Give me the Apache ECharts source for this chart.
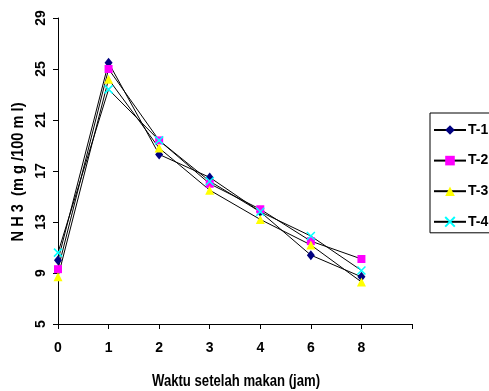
<!DOCTYPE html>
<html><head><meta charset="utf-8">
<script src="https://cdn.jsdelivr.net/npm/echarts@6/dist/echarts.min.js"></script>
<style>html,body{margin:0;padding:0;background:#fff}#c{width:489px;height:391px}</style>
</head><body><div id="c"></div>
<script>
var categories = ['0','1','2','3','4','6','8',''];
var yTicks = [5,9,13,17,21,25,29];
var t1 = [10.0, 25.5, 18.3, 16.5, 13.8, 10.4, 8.7];
var t2 = [9.3, 25.0, 19.4, 16.0, 14.0, 11.5, 10.1];
var t3 = [8.7, 24.2, 18.8, 15.5, 13.2, 11.2, 8.3];
var t4 = [10.6, 23.4, 19.4, 16.2, 13.8, 11.9, 9.2];
var names = ['T-1','T-2','T-3','T-4'];
var xTitle = 'Waktu setelah makan (jam)';
var yTitle = 'N H 3  (m g /100 m l)';

var font = '"Liberation Sans Narrow", "Arial Narrow", "Liberation Sans", Arial, sans-serif';
function textWidth(t, f) {
  var c = document.createElement('canvas').getContext('2d');
  c.font = f; return c.measureText(t).width;
}
var xtFont = 'bold 16px ' + font;
var ytFont = 'bold 17px ' + font;
var xScale = 168 / textWidth(xTitle, xtFont);
var yScale = 139 / textWidth(yTitle, ytFont);

function mk(name, data, symbol, size, color, extra) {
  var s = {
    name: name, type: 'line', data: data, symbol: symbol, symbolSize: size,
    showSymbol: true,
    lineStyle: {color: '#000', width: 1},
    itemStyle: {color: color, borderWidth: 0},
    emphasis: {disabled: true},
    animation: false, z: 2
  };
  if (extra) Object.assign(s.itemStyle, extra);
  return s;
}
var chart = echarts.init(document.getElementById('c'), null, {renderer: 'canvas'});
chart.setOption({
  animation: false,
  grid: {left: 58, top: 18, right: 77, bottom: 67, containLabel: false},
  legend: {
    orient: 'vertical', left: 430, top: 113,
    data: names,
    itemWidth: 32, itemHeight: 12, itemGap: 16.6,
    padding: [10, 8, 4, 3],
    borderColor: '#000', borderWidth: 1,
    textStyle: {fontFamily: font, fontWeight: 'bold', fontSize: 14, color: '#000', padding: [0,0,0,-3]}
  },
  xAxis: {
    type: 'category', data: categories, boundaryGap: false,
    axisLine: {lineStyle: {color: '#000', width: 1}},
    axisTick: {show: true, length: 5, inside: false, alignWithLabel: true, lineStyle: {color: '#000'}},
    axisLabel: {margin: 17, fontFamily: font, fontWeight: 'bold', fontSize: 14, color: '#000'},
    splitLine: {show: false}
  },
  yAxis: {
    type: 'value', min: 5, max: 29,
    axisLine: {show: true, lineStyle: {color: '#000', width: 1}},
    axisTick: {show: true, length: 5, lineStyle: {color: '#000'}, customValues: yTicks},
    axisLabel: {rotate: 90, margin: 10, fontFamily: font, fontWeight: 'bold', fontSize: 14, color: '#000', customValues: yTicks},
    splitLine: {show: false}
  },
  graphic: [{
    type: 'text', x: 236, y: 382, scaleX: xScale,
    style: {text: xTitle, font: xtFont, fill: '#000', align: 'center', verticalAlign: 'middle'}
  }, {
    type: 'text', x: 18.5, y: 172, rotation: Math.PI / 2, scaleX: yScale,
    style: {text: yTitle, font: ytFont, fill: '#000', align: 'center', verticalAlign: 'middle'}
  }],
  series: [
    mk('T-1', t1, 'diamond', [8, 10], '#000080'),
    mk('T-2', t2, 'rect', 8, '#FF00FF'),
    mk('T-3', t3, 'triangle', 9, '#FFFF00'),
    mk('T-4', t4, 'path://M0,0L10,10M10,0L0,10', 8, '#00FFFF', {borderColor: '#00FFFF', borderWidth: 1.5})
  ]
});
</script></body></html>
